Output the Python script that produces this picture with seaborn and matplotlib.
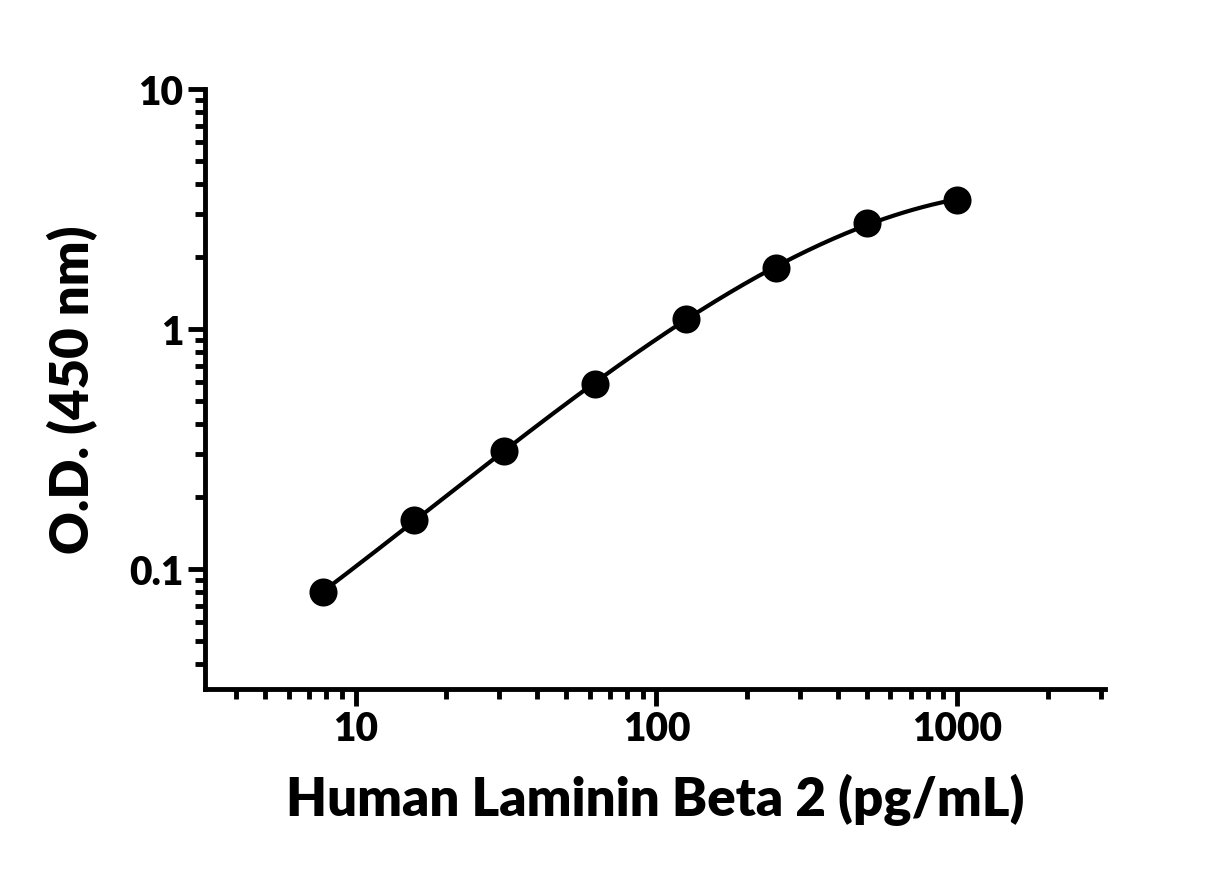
import numpy as np
import matplotlib
matplotlib.use("Agg")
import matplotlib.pyplot as plt
import seaborn as sns
from matplotlib.ticker import LogLocator, FixedLocator, FixedFormatter, NullFormatter

conc = [7.8, 15.6, 31.25, 62.5, 125, 250, 500, 1000]
od = [0.08, 0.16, 0.31, 0.59, 1.1, 1.8, 2.75, 3.45]
xticks = [10, 100, 1000]
xticklabels = ["10", "100", "1000"]
yticks = [0.1, 1, 10]
yticklabels = ["0.1", "1", "10"]

sns.set_style("ticks")
plt.rcParams["font.family"] = "Lato"
fig = plt.figure(figsize=(12.3, 8.7), dpi=100)
ax = fig.add_axes([0.1667, 0.207, 0.7317, 0.6896])

lx = np.log10(conc)
ly = np.log10(od)
coef = np.polyfit(lx, ly, 3)
xs = np.linspace(lx[0], lx[-1], 200)
sns.lineplot(x=10**xs, y=10**np.polyval(coef, xs), ax=ax, color="black", lw=3)
sns.scatterplot(x=conc, y=od, ax=ax, color="black", s=350, edgecolor="black", zorder=5)

ax.set_xscale("log")
ax.set_yscale("log")
ax.set_xlim(3.16, 3100)
ax.set_ylim(0.0316, 10)
ax.xaxis.set_major_locator(FixedLocator(xticks))
ax.xaxis.set_major_formatter(FixedFormatter(xticklabels))
ax.yaxis.set_major_locator(FixedLocator(yticks))
ax.yaxis.set_major_formatter(FixedFormatter(yticklabels))
ax.xaxis.set_minor_locator(LogLocator(base=10, subs=np.arange(2, 10)))
ax.yaxis.set_minor_locator(LogLocator(base=10, subs=np.arange(2, 10)))
ax.xaxis.set_minor_formatter(NullFormatter())
ax.yaxis.set_minor_formatter(NullFormatter())
for s in ["top", "right"]:
    ax.spines[s].set_visible(False)
for s in ["left", "bottom"]:
    ax.spines[s].set_linewidth(3.5)
    ax.spines[s].set_color("black")
ax.tick_params(which="major", length=12, width=3.5, labelsize=28, direction="out", colors="black")
ax.tick_params(which="minor", length=7, width=3.5, direction="out", colors="black")
for lab in ax.get_xticklabels() + ax.get_yticklabels():
    lab.set_fontweight("heavy")
ax.set_xlabel("Human Laminin Beta 2 (pg/mL)", fontsize=38, fontweight="heavy", labelpad=18, color="black")
ax.set_ylabel("O.D. (450 nm)", fontsize=38, fontweight="heavy", labelpad=22, color="black")
fig.savefig("out.png", dpi=100)
